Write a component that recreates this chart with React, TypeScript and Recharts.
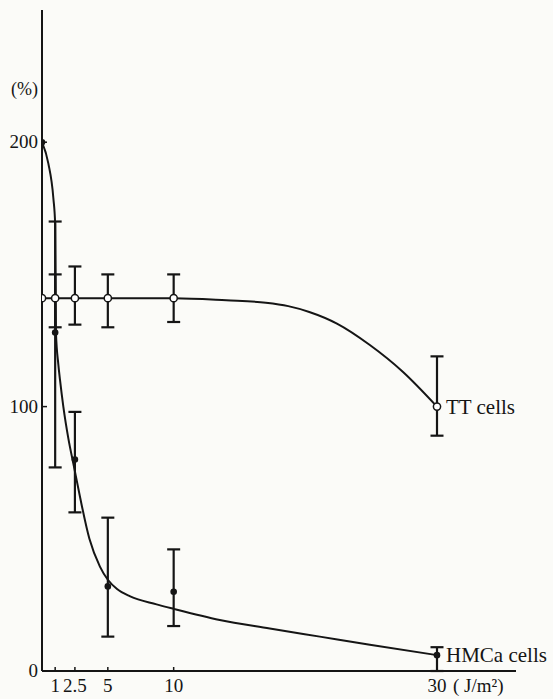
import React from "react";
import {
  ComposedChart,
  ErrorBar,
  Line,
  ReferenceDot,
  Scatter,
  XAxis,
  YAxis,
} from "recharts";

// dose (J/m2) and survival (%)
const doses = [0, 1, 2.5, 5, 10, 30];

const ttMean = [141, 141, 141, 141, 141, 100];
const ttLow = [null, 130, 131, 130, 132, 89];
const ttHigh = [null, 150, 153, 150, 150, 119];

const hmcaMean = [200, 128, 80, 32, 30, 6];
const hmcaLow = [null, 77, 60, 13, 17, 0];
const hmcaHigh = [null, 170, 98, 58, 46, 9];

// hand-drawn fitted curves
const ttCurveX = [0, 1, 2.5, 5, 10, 14, 17, 18.7, 20.3, 22.4, 24.9, 27.4, 30];
const ttCurveY = [141, 141, 141, 141, 141, 140.2, 139.3, 138, 135.8, 131.4, 123.3, 113.2, 100];

const hmcaCurveX = [
  0, 0.48, 0.86, 1.0, 1.06, 1.24, 1.37, 1.62, 2.0, 2.4, 2.9, 3.6, 4.4, 5.0, 5.7, 6.7,
  8.7, 10, 13.5, 17.3, 21.1, 24.9, 30,
];
const hmcaCurveY = [
  200, 192, 179, 169, 128, 116, 110, 100, 88, 78, 65.5, 50, 39.5, 34.5, 31, 28.2,
  25.2, 23.5, 19.3, 16.1, 13, 9.9, 6,
];

const xTicks = [1, 2.5, 5, 10, 30];
const yTicks = [0, 100, 200];

const ink = "#151515";
const font = "Liberation Serif";

const toPoints = (xs: number[], ys: number[]) => xs.map((x, i) => ({ x, y: ys[i] }));

const toBars = (means: number[], lows: (number | null)[], highs: (number | null)[]) =>
  doses
    .map((x, i) => ({ x, y: means[i], lo: lows[i], hi: highs[i] }))
    .filter((d) => d.lo != null && d.hi != null)
    .map((d) => ({ x: d.x, y: d.y, err: [d.y - (d.lo as number), (d.hi as number) - d.y] }));

const ttPoints = toPoints(doses, ttMean);
const hmcaPoints = toPoints(doses, hmcaMean);
const ttBars = toBars(ttMean, ttLow, ttHigh);
const hmcaBars = toBars(hmcaMean, hmcaLow, hmcaHigh);
const ttCurve = toPoints(ttCurveX, ttCurveY);
const hmcaCurve = toPoints(hmcaCurveX, hmcaCurveY);

const OpenDot = (p: any) => (
  <circle cx={p.cx} cy={p.cy} r={3.6} fill="#fff" stroke={ink} strokeWidth={1.5} />
);
const FilledDot = (p: any) => <circle cx={p.cx} cy={p.cy} r={3.3} fill={ink} />;
const NoShape = () => <g />;

const XTick = (p: any) => {
  const v = p.payload.value;
  return (
    <g>
      <line x1={p.x} x2={p.x} y1={p.y} y2={p.y - 4} stroke={ink} strokeWidth={1.5} />
      <text x={p.x} y={p.y + 21} textAnchor="middle" fontSize={19} fill={ink} fontFamily={font}>
        {v}
      </text>
      {v === 30 && (
        <text x={p.x + 16} y={p.y + 21} fontSize={19} fill={ink} fontFamily={font}>
          ( J/m²)
        </text>
      )}
    </g>
  );
};

const YTick = (p: any) => (
  <g>
    <line x1={p.x} x2={p.x + 5} y1={p.y} y2={p.y} stroke={ink} strokeWidth={1.5} />
    <text
      x={p.x - 4}
      y={p.y}
      dy={6}
      textAnchor="end"
      fontSize={19}
      fill={ink}
      fontFamily={font}
    >
      {p.payload.value}
    </text>
  </g>
);

const seriesLabel = (text: string) => (props: any) => {
  const vb = props.viewBox;
  return (
    <text x={vb.x + 9} y={vb.y} dy={7} fontSize={21} fill={ink} fontFamily={font}>
      {text}
    </text>
  );
};

const unitLabel = (props: any) => {
  const vb = props.viewBox;
  return (
    <text x={vb.x - 4} y={vb.y} dy={6} textAnchor="end" fontSize={18} fill={ink} fontFamily={font}>
      (%)
    </text>
  );
};

export default function App() {
  return (
    <div style={{ position: "absolute", left: 0, top: 0, width: 553, height: 699, background: "#fbfbf8" }}>
      <ComposedChart
        width={553}
        height={699}
        margin={{ top: 10, right: 37, left: 0, bottom: 0 }}
      >
        <XAxis
          dataKey="x"
          type="number"
          domain={[0, 36]}
          ticks={xTicks}
          allowDataOverflow
          height={28}
          tickSize={0}
          tickMargin={0}
          tickLine={false}
          tick={XTick}
          axisLine={{ stroke: ink, strokeWidth: 2 }}
        />
        <YAxis
          type="number"
          domain={[0, 250]}
          ticks={yTicks}
          allowDataOverflow
          width={42}
          tickSize={0}
          tickMargin={0}
          tickLine={false}
          tick={YTick}
          axisLine={{ stroke: ink, strokeWidth: 2 }}
        />
        <Line
          data={ttCurve}
          dataKey="y"
          type="monotone"
          stroke={ink}
          strokeWidth={2}
          dot={false}
          activeDot={false}
          isAnimationActive={false}
        />
        <Line
          data={hmcaCurve}
          dataKey="y"
          type="monotone"
          stroke={ink}
          strokeWidth={2}
          dot={false}
          activeDot={false}
          isAnimationActive={false}
        />
        <Scatter data={hmcaBars} dataKey="y" shape={NoShape} isAnimationActive={false}>
          <ErrorBar dataKey="err" direction="y" width={6.5} stroke={ink} strokeWidth={2.2} isAnimationActive={false} />
        </Scatter>
        <Scatter data={ttBars} dataKey="y" shape={NoShape} isAnimationActive={false}>
          <ErrorBar dataKey="err" direction="y" width={6.5} stroke={ink} strokeWidth={2.2} isAnimationActive={false} />
        </Scatter>
        <Scatter data={hmcaPoints} dataKey="y" shape={FilledDot} isAnimationActive={false} />
        <Scatter data={ttPoints} dataKey="y" shape={OpenDot} isAnimationActive={false} />
        <ReferenceDot x={30} y={100} r={0} stroke="none" label={seriesLabel("TT cells")} />
        <ReferenceDot x={30} y={6} r={0} stroke="none" label={seriesLabel("HMCa cells")} />
        <ReferenceDot x={0} y={220} r={0} stroke="none" label={unitLabel} />
      </ComposedChart>
    </div>
  );
}
